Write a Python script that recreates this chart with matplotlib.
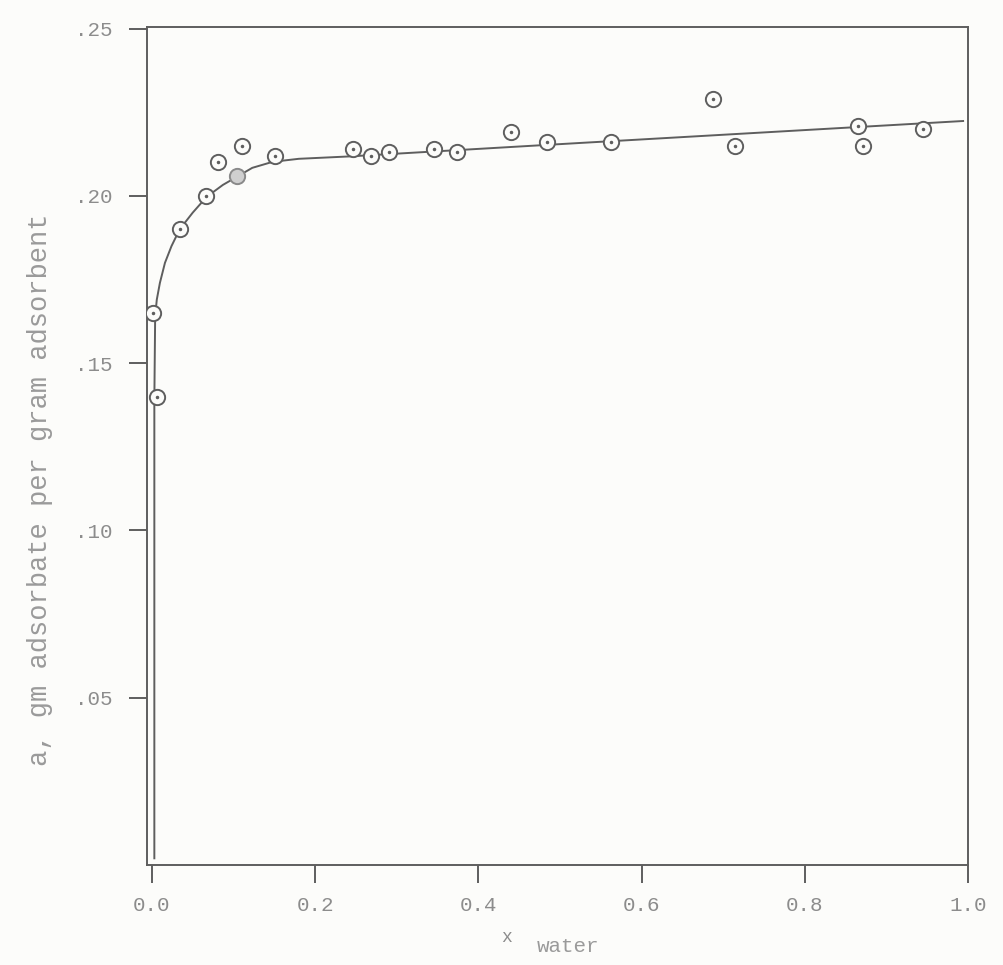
import matplotlib
matplotlib.use('Agg')
import matplotlib.pyplot as plt

plt.rcParams['font.family'] = ['Liberation Mono', 'DejaVu Sans Mono']

# measured points (mole fraction of water, g adsorbate per g adsorbent)
x_water = [0.001, 0.006, 0.035, 0.066, 0.081, 0.111, 0.151, 0.246, 0.268,
           0.291, 0.346, 0.374, 0.440, 0.484, 0.562, 0.687, 0.715, 0.865,
           0.871, 0.945]
a_ads = [0.165, 0.140, 0.190, 0.200, 0.210, 0.215, 0.212, 0.214, 0.212,
         0.213, 0.214, 0.213, 0.219, 0.216, 0.216, 0.229, 0.215, 0.221,
         0.215, 0.220]
# shaded point
x_shade = [0.104]
a_shade = [0.206]

# hand-drawn smoothed curve
curve_x = [0.003, 0.003, 0.004, 0.006, 0.0098, 0.016, 0.024, 0.034, 0.050,
           0.067, 0.087, 0.104, 0.123, 0.148, 0.180, 0.241, 0.522, 0.994]
curve_y = [0.002, 0.139, 0.164, 0.169, 0.174, 0.180, 0.185, 0.190, 0.195,
           0.1997, 0.2033, 0.2057, 0.2084, 0.2102, 0.2111, 0.2118, 0.2158,
           0.2224]

xticks = [0.0, 0.2, 0.4, 0.6, 0.8, 1.0]
xtick_labels = ['0.0', '0.2', '0.4', '0.6', '0.8', '1.0']
yticks = [0.05, 0.10, 0.15, 0.20, 0.25]
ytick_labels = ['.05', '.10', '.15', '.20', '.25']

TXT = '#8c8c8c'
INK = '#5e5e5e'
BG = '#fcfcfa'

fig = plt.figure(figsize=(10.04, 9.65), dpi=100, facecolor=BG)
ax = fig.add_axes([147/1004, 1-865/965, (968-147)/1004, (865-27)/965])
ax.set_facecolor(BG)

ax.plot(curve_x, curve_y, '-', color=INK, lw=1.4, zorder=2)
ax.plot(x_water, a_ads, 'o', ms=11, mfc=BG, mec=INK, mew=1.4, zorder=3)
ax.plot(x_water, a_ads, '.', ms=3, color=INK, zorder=4)
ax.plot(x_shade, a_shade, 'o', ms=11, mfc='#cfcfcf', mec='#8a8a8a', mew=1.4, zorder=3)

ax.set_xlim(-0.006, 0.995)
ax.set_ylim(0, 0.2505)
ax.set_xticks(xticks)
ax.set_xticklabels(xtick_labels)
ax.set_yticks(yticks)
ax.set_yticklabels(ytick_labels)
ax.tick_params(axis='both', direction='out', length=13, width=1.4, color=INK,
               labelcolor=TXT, labelsize=15)
ax.tick_params(axis='y', pad=12)
ax.tick_params(axis='x', pad=9)
for s in ax.spines.values():
    s.set_color(INK)
    s.set_linewidth(1.4)

fig.text(40/1004, 1-490/965, 'a, gm adsorbate per gram adsorbent', rotation=90,
         ha='center', va='center', fontsize=19.5, color='#9a9a9a')
fig.text(507/1004, 1-938/965, 'x', ha='center', va='center', fontsize=13, color=TXT)
fig.text(537/1004, 1-946/965, 'water', ha='left', va='center', fontsize=15, color='#9a9a9a')

fig.savefig('out.png', dpi=100, facecolor=BG)
